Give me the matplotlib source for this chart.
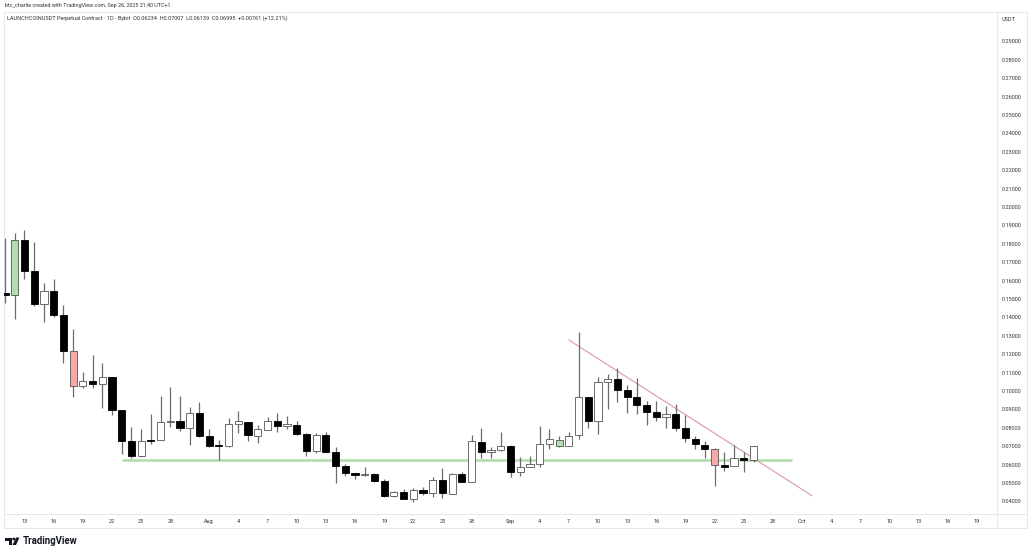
import datetime as dt
import matplotlib
matplotlib.use("Agg")
import matplotlib.pyplot as plt
import matplotlib.dates as mdates
from matplotlib.patches import Polygon, Circle

plt.rcParams['font.family'] = ['Roboto', 'DejaVu Sans']

start_date = dt.date(2025, 7, 11)

highs = [.1830,.1861,.1876,.1810,.1586,.1609,.1466,.1336,.1102,.1196,.1151,.1079,.0897,.0807,.0794,.0874,
         .0975,.1024,.0973,.0915,.0939,.0794,.0734,.0852,.0894,.0834,.0816,.0861,.0879,.0865,.0839,.0774,
         .0770,.0778,.0695,.0604,.0557,.0589,.0553,.0521,.0455,.0466,.0472,.0477,.0535,.0580,.0557,.0562,
         .0762,.0798,.0695,.0776,.0707,.0644,.0647,.0810,.0794,.0756,.0778,.1323,.0970,.1078,.1091,.1124,
         .1033,.1069,.0948,.0944,.0921,.0930,.0870,.0756,.0729,.0689,.0667,.0707,.0671,.07007]
body_tops = [.1531,.1821,.1821,.1655,.1542,.1542,.1414,.1220,.1053,.1053,.1077,.1079,.0897,.0727,.0731,.0734,
             .0832,.0838,.0836,.0883,.0883,.0756,.0704,.0819,.0836,.0834,.0792,.0838,.0836,.0819,.0818,.0769,
             .0763,.0761,.0671,.0591,.0553,.0548,.0548,.0511,.0453,.0453,.0461,.0461,.0517,.0517,.0548,.0548,
             .0727,.0725,.0680,.0704,.0704,.0586,.0602,.0712,.0738,.0736,.0758,.0968,.0968,.1051,.1064,.1064,
             .1006,.0968,.0923,.0885,.0874,.0874,.0800,.0741,.0709,.0684,.0597,.0635,.0635,.06995]
body_bottoms = [.1521,.1521,.1655,.1473,.1473,.1414,.1220,.1030,.1028,.1039,.1039,.0897,.0729,.0647,.0646,.0729,
                .0733,.0832,.0800,.0800,.0756,.0702,.0700,.0702,.0819,.0760,.0758,.0790,.0812,.0812,.0769,.0676,
                .0675,.0671,.0591,.0553,.0542,.0542,.0511,.0430,.0432,.0415,.0415,.0446,.0444,.0444,.0443,.0508,
                .0506,.0667,.0667,.0678,.0562,.0562,.0586,.0602,.0711,.0704,.0704,.0760,.0839,.0839,.1049,.1006,
                .0968,.0924,.0886,.0857,.0857,.0801,.0743,.0711,.0685,.0597,.0589,.0591,.0624,.06234]
lows = [.1481,.1390,.1609,.1463,.1376,.1401,.1151,.0966,.1015,.1015,.0906,.0870,.0658,.0635,.0640,.0713,
        .0733,.0803,.0785,.0709,.0752,.0694,.0626,.0698,.0771,.0729,.0720,.0790,.0780,.0794,.0760,.0647,
        .0662,.0671,.0502,.0539,.0521,.0539,.0508,.0426,.0426,.0412,.0399,.0437,.0423,.0419,.0439,.0504,
        .0504,.0636,.0636,.0675,.0535,.0540,.0586,.0589,.0684,.0694,.0702,.0738,.0798,.0765,.0903,.0943,
        .0883,.0874,.0816,.0837,.0801,.0783,.0722,.0684,.0635,.0484,.0568,.0591,.0560,.06139]
candle_kinds = list("bgbbwbbrwbwbbbwb"
                    "wwbwbbbwwbwwbwbb"
                    "wbbbbwbbwbwbwbwb"
                    "wbwwbwwwwgwwbwwb"
                    "bbbbwbbbbrbwbw")

price_ticks = [0.04 + 0.01 * i for i in range(26)]
date_ticks = [dt.date(2025, 7, d) for d in (13, 16, 19, 22, 25, 28)] + [dt.date(2025, 8, 1)] + \
             [dt.date(2025, 8, d) for d in (4, 7, 10, 13, 16, 19, 22, 25, 28)] + [dt.date(2025, 9, 1)] + \
             [dt.date(2025, 9, d) for d in (4, 7, 10, 13, 16, 19, 22, 25, 28)] + [dt.date(2025, 10, 1)] + \
             [dt.date(2025, 10, d) for d in (4, 7, 10, 13, 16, 19)]
date_labels = ['13', '16', '19', '22', '25', '28', 'Aug', '4', '7', '10', '13', '16', '19', '22', '25', '28',
               'Sep', '4', '7', '10', '13', '16', '19', '22', '25', '28', 'Oct', '4', '7', '10', '13', '16', '19']

trend_dates = [dt.date(2025, 9, 7), dt.date(2025, 10, 2)]
trend_prices = [.1278, .0432]
support_dates = [dt.date(2025, 7, 23), dt.date(2025, 9, 30)]
support_prices = [.0624, .0624]

kind_colours = {'b': '#000000', 'w': '#ffffff', 'g': '#b3dcb0', 'r': '#f7a9a7'}

W, H = 1032, 554
fig = plt.figure(figsize=(W / 100, H / 100), dpi=100, facecolor='white')

ov = fig.add_axes([0, 0, 1, 1], zorder=0)
ov.set_xlim(0, W); ov.set_ylim(H, 0); ov.axis('off')
frame = '#e6e8ec'
ov.plot([4, 1027, 1027, 4, 4], [12, 12, 528, 528, 12], color=frame, lw=0.7)
ov.plot([997, 997], [12, 528], color=frame, lw=0.7)
ov.plot([4, 1027], [514, 514], color=frame, lw=0.7)
ov.text(1009, 19.5, 'USDT', fontsize=4.0, ha='center', va='center', color='#333333')
ov.text(5, 6, 'btc_charlie created with TradingView.com, Sep 26, 2025 21:40 UTC+1',
        fontsize=3.9, va='center', color='#333333')
ov.text(7, 18.5, 'LAUNCHCOINUSDT Perpetual Contract · 1D · Bybit  O0.06234  H0.07007  L0.06139  C0.06995  +0.00761 (+12.21%)',
        fontsize=3.93, va='center', color='#333333')
ov.add_patch(Polygon([(5, 537.5), (12, 537.5), (12, 545), (8.5, 545), (8.5, 540.5), (5, 540.5)], fc='#131722', ec='none'))
ov.add_patch(Circle((13.7, 539), 1.4, fc='#131722', ec='none'))
ov.add_patch(Polygon([(16, 537.5), (19.5, 537.5), (16, 545), (12.5, 545)], fc='#131722', ec='none'))
ov.text(22.5, 541, 'TradingView', fontsize=6.9, fontweight='bold', va='center', color='#131722')

ax = fig.add_axes([4 / W, 1 - 514 / H, 993 / W, 502 / H], zorder=1)
ax.patch.set_alpha(0)
base = mdates.date2num(dt.date(2025, 7, 13))
ax.set_xlim(base - 20.5 / 9.72, base + 972.5 / 9.72)
ax.set_ylim(0.29 - (514 - 41.5) / 1840, 0.29 + 29.5 / 1840)
for s in ax.spines.values():
    s.set_visible(False)

days = [start_date + dt.timedelta(days=i) for i in range(len(highs))]
xs = mdates.date2num(days)

ax.plot(mdates.date2num(support_dates), support_prices, color='#b5dcb0', lw=1.9, solid_capstyle='butt', zorder=2)
ax.plot(mdates.date2num(trend_dates), trend_prices, color='#d79a9e', lw=0.8, zorder=2)

ax.vlines(xs, lows, highs, color='#6b6b6b', lw=0.9, zorder=3)
for x, top, bot, kind in zip(xs, body_tops, body_bottoms, candle_kinds):
    fc = kind_colours[kind]
    ax.bar(x, max(top - bot, 0.0006), bottom=bot, width=0.74, color=fc,
           edgecolor='#000000' if kind == 'b' else '#555555', lw=0.6, zorder=4)

ax.set_xticks(mdates.date2num(date_ticks), date_labels)
ax.set_yticks(price_ticks, [f'{p:.5f}' for p in price_ticks])
ax.yaxis.tick_right()
ax.tick_params(axis='both', length=0, labelsize=4.0, labelcolor='#333333')
ax.tick_params(axis='y', pad=3.3)
ax.tick_params(axis='x', pad=3.5)

fig.savefig('out.png', dpi=100)
